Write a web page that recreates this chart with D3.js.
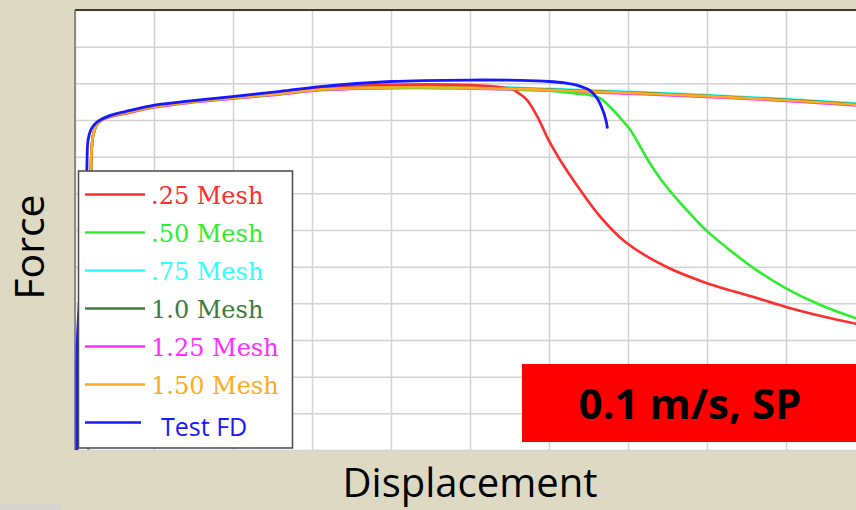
<!DOCTYPE html>
<html>
<head>
<meta charset="utf-8">
<script src="https://cdn.jsdelivr.net/npm/d3@7"></script>
<style>
  body { margin: 0; background: #DDD9C3; }
  svg { display: block; }
</style>
</head>
<body>
<script>
// chart size (the window is 856x510)
var svg_width = 856,
    svg_height = 510;

// plot area, right side runs off the page like in the slide
var plot = {left: 75, top: 10, right: 865, bottom: 450};

// ---- data (grid units: x 0..10, y 0..12) ----
var seriesNames = [".25 Mesh", ".50 Mesh", ".75 Mesh", "1.0 Mesh", "1.25 Mesh", "1.50 Mesh", "Test FD"];
var seriesColors = ["#FF2E2E", "#2EEE2E", "#2EFFFF", "#3C7C3C", "#FF2EFF", "#FFAA22", "#1818FF"];

// shared displacement values for the meshes that do not fail in view
var meshX      = [0.17, 0.18, 0.18, 0.19, 0.20, 0.21, 0.23, 0.27, 0.32, 0.44, 0.70, 0.99, 1.46, 1.99, 2.60, 3.10, 4.00, 5.00, 6.00, 7.00, 8.00, 9.00, 10.0];
var mesh075Y   = [0, 1.36, 4.09, 6.27, 7.36, 8.18, 8.60, 8.88, 9.01, 9.12, 9.24, 9.38, 9.51, 9.62, 9.74, 9.85, 9.92, 9.91, 9.85, 9.77, 9.68, 9.57, 9.43];
var mesh100Y   = [0, 1.36, 4.09, 6.27, 7.36, 8.18, 8.59, 8.86, 8.99, 9.10, 9.22, 9.36, 9.49, 9.60, 9.72, 9.83, 9.90, 9.89, 9.83, 9.75, 9.66, 9.55, 9.41];
var mesh125Y   = [0, 1.36, 4.09, 6.27, 7.36, 8.18, 8.58, 8.84, 8.97, 9.08, 9.20, 9.34, 9.47, 9.58, 9.70, 9.81, 9.87, 9.86, 9.80, 9.72, 9.63, 9.52, 9.38];
var mesh150Y   = [0, 1.36, 4.09, 6.27, 7.36, 8.18, 8.59, 8.86, 8.99, 9.10, 9.22, 9.36, 9.49, 9.60, 9.72, 9.83, 9.89, 9.88, 9.82, 9.74, 9.65, 9.54, 9.40];

var mesh025X   = [0.17, 0.18, 0.18, 0.19, 0.20, 0.21, 0.23, 0.27, 0.32, 0.44, 0.70, 0.99, 1.46, 1.99, 2.60, 3.10, 4.00, 5.00, 5.44, 5.54, 5.59, 5.72, 5.87, 5.99, 6.14, 6.35, 6.65, 6.98, 7.49, 8.00, 8.59, 9.00, 9.43, 9.89, 10.0];
var mesh025Y   = [0, 1.36, 4.09, 6.27, 7.36, 8.18, 8.59, 8.86, 8.99, 9.10, 9.22, 9.37, 9.50, 9.62, 9.75, 9.87, 9.96, 9.95, 9.88, 9.84, 9.77, 9.55, 9.02, 8.47, 7.91, 7.23, 6.36, 5.65, 4.99, 4.55, 4.17, 3.90, 3.66, 3.44, 3.38];

var mesh050X   = [0.17, 0.18, 0.18, 0.19, 0.20, 0.21, 0.23, 0.27, 0.32, 0.44, 0.70, 0.99, 1.46, 1.99, 2.60, 3.10, 4.00, 5.00, 6.00, 6.35, 6.52, 6.65, 6.77, 6.90, 7.03, 7.24, 7.41, 7.62, 7.87, 8.00, 8.29, 8.59, 9.00, 9.43, 9.89, 10.0];
var mesh050Y   = [0, 1.36, 4.09, 6.27, 7.36, 8.18, 8.59, 8.86, 8.99, 9.10, 9.22, 9.36, 9.49, 9.60, 9.72, 9.83, 9.88, 9.87, 9.80, 9.72, 9.68, 9.59, 9.36, 9.06, 8.73, 7.95, 7.40, 6.84, 6.25, 5.97, 5.45, 4.96, 4.41, 3.96, 3.59, 3.52];

var testX      = [0.025, 0.025, 0.03, 0.09, 0.14, 0.15, 0.165, 0.20, 0.24, 0.29, 0.44, 0.70, 0.99, 1.46, 1.99, 2.60, 3.10, 4.00, 5.01, 5.63, 6.00, 6.20, 6.35, 6.52, 6.62, 6.68, 6.72, 6.74];
var testY      = [0, 1.36, 3.00, 5.18, 6.82, 7.64, 8.45, 8.73, 8.86, 8.96, 9.12, 9.26, 9.40, 9.52, 9.64, 9.78, 9.91, 10.05, 10.09, 10.08, 10.05, 10.01, 9.95, 9.80, 9.55, 9.27, 9.00, 8.77];

var xTickCount = 10, yTickCount = 12;

// pair x/y lists into points
function zip(xs, ys) { return xs.map(function(d, i) { return [d, ys[i]]; }); }

var seriesData = [
  zip(mesh025X, mesh025Y),
  zip(mesh050X, mesh050Y),
  zip(meshX, mesh075Y),
  zip(meshX, mesh100Y),
  zip(meshX, mesh125Y),
  zip(meshX, mesh150Y),
  zip(testX, testY)
];
// draw order: the meshes hidden underneath first, test curve last
var drawOrder = [2, 4, 3, 1, 0, 5, 6];

var svg = d3.select("body").append("svg")
    .attr("width", svg_width)
    .attr("height", svg_height);

var x = d3.scaleLinear().domain([0, 10]).range([plot.left, plot.right]);
var y = d3.scaleLinear().domain([0, 12]).range([plot.bottom, plot.top]);

// small grey strip bottom-left from the slide
svg.append("rect").attr("x", 0).attr("y", 503).attr("width", 62).attr("height", 7).attr("fill", "#D6D5D0");

// plot background
svg.append("rect")
    .attr("x", plot.left).attr("y", plot.top)
    .attr("width", plot.right - plot.left).attr("height", plot.bottom - plot.top)
    .attr("fill", "#fff");

svg.append("defs").append("clipPath").attr("id", "clip")
  .append("rect")
    .attr("x", plot.left).attr("y", plot.top)
    .attr("width", plot.right - plot.left).attr("height", plot.bottom - plot.top);

// grid lines from the axes
svg.append("g").attr("class", "grid")
    .attr("transform", "translate(0," + plot.bottom + ")")
    .call(d3.axisBottom(x).ticks(xTickCount).tickSize(-(plot.bottom - plot.top)).tickFormat(""));
svg.append("g").attr("class", "grid")
    .attr("transform", "translate(" + plot.left + ",0)")
    .call(d3.axisLeft(y).ticks(yTickCount).tickSize(-(plot.right - plot.left)).tickFormat(""));
svg.selectAll(".grid .domain").remove();
svg.selectAll(".grid line").attr("stroke", "#D2D2D2").attr("stroke-width", 1.5);

// borders: dark top, grey left
svg.append("line").attr("x1", plot.left).attr("x2", svg_width).attr("y1", plot.top).attr("y2", plot.top)
    .attr("stroke", "#3a3a3a").attr("stroke-width", 2);
svg.append("line").attr("x1", plot.left).attr("x2", plot.left).attr("y1", plot.top).attr("y2", plot.bottom)
    .attr("stroke", "#707070").attr("stroke-width", 1.5);

var line = d3.line()
    .x(function(d) { return x(d[0]); })
    .y(function(d) { return y(d[1]); })
    .curve(d3.curveCatmullRom.alpha(0.5));

var lines = svg.append("g").attr("clip-path", "url(#clip)");
drawOrder.forEach(function(i) {
  lines.append("path")
      .datum(seriesData[i])
      .attr("fill", "none")
      .attr("stroke", seriesColors[i])
      .attr("stroke-width", i == 6 ? 2.8 : 2.6)
      .attr("stroke-linejoin", "round")
      .attr("d", line);
});

// legend
var legend = svg.append("g");
legend.append("rect")
    .attr("x", 78.5).attr("y", 171).attr("width", 214).attr("height", 277)
    .attr("fill", "#fff").attr("stroke", "#4a4a4a").attr("stroke-width", 1.5);

seriesNames.forEach(function(name, i) {
  var ly = 194.5 + i * 38;
  var isTest = i == 6;
  legend.append("line")
      .attr("x1", 85).attr("x2", isTest ? 141 : 145)
      .attr("y1", ly).attr("y2", ly)
      .attr("stroke", seriesColors[i]).attr("stroke-width", 2.5);
  legend.append("text")
      .attr("x", isTest ? 161 : 151)
      .attr("y", ly + (isTest ? 13.5 : 9))
      .attr("fill", seriesColors[i])
      .style("font-family", isTest ? "'Open Sans', sans-serif" : "'DejaVu Serif', serif")
      .style("font-size", isTest ? "25px" : "24px")
      .text(name);
});

// red label box
svg.append("rect").attr("x", 522).attr("y", 364).attr("width", svg_width - 522).attr("height", 78).attr("fill", "#FF0000");
svg.append("text")
    .attr("x", 690).attr("y", 419)
    .attr("text-anchor", "middle")
    .style("font-family", "'Open Sans', sans-serif")
    .style("font-weight", "bold")
    .style("font-size", "42px")
    .attr("fill", "#000")
    .text("0.1 m/s, SP");

// axis titles
svg.append("text")
    .attr("x", 470).attr("y", 497)
    .attr("text-anchor", "middle")
    .style("font-family", "'Open Sans', sans-serif")
    .style("font-size", "40px")
    .attr("fill", "#000")
    .text("Displacement");
svg.append("text")
    .attr("transform", "translate(44,247) rotate(-90)")
    .attr("text-anchor", "middle")
    .style("font-family", "'Open Sans', sans-serif")
    .style("font-size", "41px")
    .attr("fill", "#000")
    .text("Force");
</script>
</body>
</html>
